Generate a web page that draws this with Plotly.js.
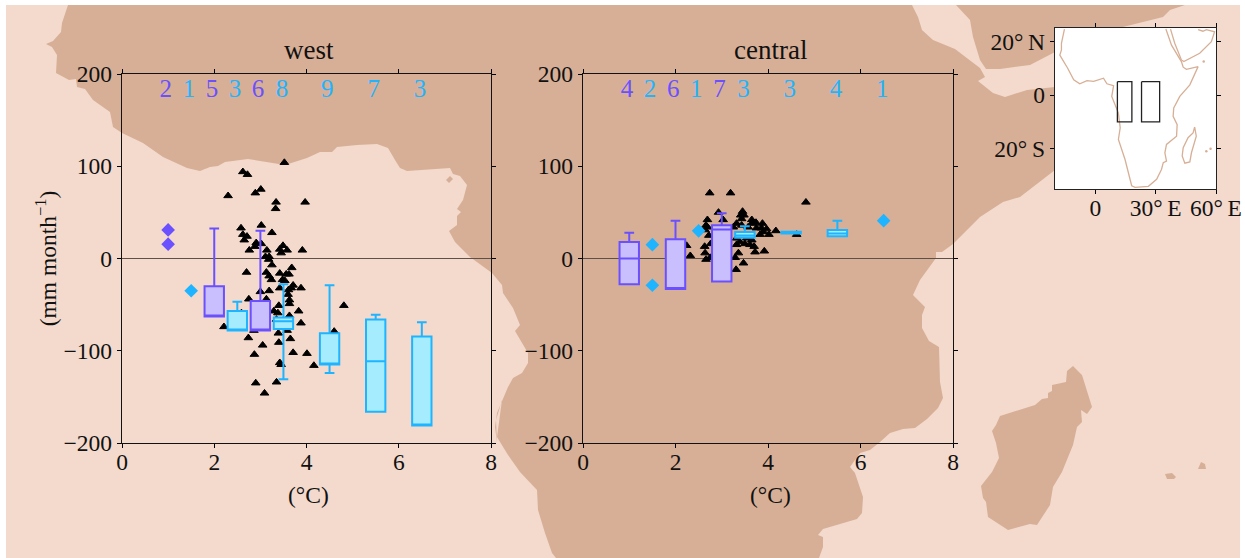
<!DOCTYPE html>
<html>
<head>
<meta charset="utf-8">
<script src="https://cdn.plot.ly/plotly-3.0.1.min.js"></script>
<style>html,body{margin:0;padding:0;background:#fff}</style>
</head>
<body>
<div id="chart" style="width:1245px;height:558px"></div>
<script>
// ---- background map (picture units)
var seaX = [6,1240,1240,6,6];
var seaY = [5,5,558,558,5];
var africaX = [68,62,61,53,46,52,57,56,69,76,77,85,93,110,113,122,143,163,187,200,210,218,225,248,285,307,320,332,337,357,377,388,395,400,407,450,453,460,467,463,457,461,457,457,449,455,470,492,502,503,513,520,515,522,528,528,522,513,508,497,495,497,496,502,497,508,520,537,538,545,552,556,819,823,823,818,823,857,862,863,855,850,860,870,880,890,903,915,927,938,943,940,939,929,922,922,925,913,920,936,936,942,953,967,980,1003,1020,1055,1100,1100,1055,1027,1005,993,978,985,980,955,933,922,918,912,68];
var africaY = [5,23,32,41,44,47,55,73,80,79,87,89,100,112,127,133,143,157,168,171,167,166,162,159,165,158,152,152,147,145,144,148,160,168,171,168,174,176,185,200,209,212,216,225,231,242,257,273,285,293,308,325,331,343,353,363,373,378,387,413,427,442,420,400,437,455,472,490,510,533,553,558,558,547,537,535,529,519,513,497,473,467,453,450,442,433,429,428,419,408,398,382,347,341,328,315,307,295,280,258,252,252,244,230,217,202,197,170,130,87,87,90,97,93,81,77,68,49,40,30,17,5,5];
var arabiaX = [956,970,973,980,986,1000,1030,1055,1100,1123,1163,1170,1185,956];
var arabiaY = [5,20,37,60,69,69,65,52,40,27,17,10,5,5];
var madagascarX = [1073,1067,1066,1052,1052,1048,1048,1042,1035,1008,1000,996,992,996,999,992,981,983,986,988,1008,1030,1037,1050,1053,1062,1073,1077,1082,1081,1087,1092,1085,1082,1073];
var madagascarY = [366,371,382,385,391,393,398,399,405,414,416,425,431,443,458,472,486,498,502,517,530,524,525,505,487,472,445,427,422,410,414,407,385,375,366];
var islandAX = [1165,1172,1176,1174,1167,1165];
var islandAY = [474,473,477,479,479,474];
var islandBX = [1201,1205,1206,1198,1201];
var islandBY = [462,464,469,469,462];
var lakeX = [446,450,453,449,446];
var lakeY = [180,176,179,183,180];

// ---- west panel
var westTriX = [3.52,2.62,2.72,2.30,2.89,3.01,3.97,3.34,3.33,3.02,2.58,3.25,2.62,2.71,2.65,2.91,2.88,3.02,2.76,3.14,3.19,3.11,3.49,3.42,3.58,3.91,3.45,3.18,3.25,2.70,3.13,3.19,3.24,3.68,3.42,3.62,3.56,3.48,3.53,3.71,3.67,3.42,3.88,3.61,3.19,3.00,3.60,3.63,3.63,3.40,2.75,3.13,3.83,3.29,3.38,3.63,3.88,2.21,4.81,4.60,2.86,3.58,2.74,3.65,3.39,3.40,3.05,2.87,3.71,4.01,3.42,3.45,4.16,3.35,2.90,3.09,2.59,3.35];
var westTriY = [104,94,91,68,71,75,61,61,54,36,33,28,26,24,20,17,13,16,9,9,2,2,14,10,9,9,6,-1,-7,-15,-15,-19,-23,-10,-16,-17,-17,-23,-24,-29,-32,-32,-32,-34,-35,-36,-39,-45,-49,-51,-44,-44,-57,-57,-59,-62,-70,-74,-51,-79,-78,-78,-86,-87,-81,-91,-94,-104,-102,-103,-113,-115,-116,-134,-135,-146,-59,-66];
var westDiamondPurpleX = [1,1];
var westDiamondPurpleY = [31,15.5];
var westDiamondBlueX = [1.5];
var westDiamondBlueY = [-35];

var westPurpleX = [2,3];
var westPurpleQ1 = [-63,-78];
var westPurpleMed = [-63,-78];
var westPurpleQ3 = [-30,-46];
var westPurpleLow = [-63,-78];
var westPurpleUp = [32.5,30];

var westBlueX = [2.5,3.5,4.5,5.5,6.5];
var westBlueQ1 = [-78,-76.5,-115,-166,-181];
var westBlueMed = [-78,-68,-115,-111.5,-181];
var westBlueQ3 = [-57,-64,-81,-66,-84.5];
var westBlueLow = [-78,-131,-124,-166,-181];
var westBlueUp = [-47,-28,-29,-61,-69];

var westCountX = [0.95,1.45,1.95,2.45,2.95,3.47,4.45,5.46,6.46];
var westCountText = ['2','1','5','3','6','8','9','7','3'];
var westCountColor = ['#6a50ff','#1fb4ff','#6a50ff','#1fb4ff','#6a50ff','#1fb4ff','#1fb4ff','#1fb4ff','#1fb4ff'];

// ---- central panel
var centralTriX = [2.74,3.19,4.82,2.93,3.45,3.41,3.48,3.43,3.65,3.74,3.88,3.65,3.97,4.17,3.83,4.02,4.62,2.69,2.66,3.03,2.72,2.63,2.64,2.66,2.75,2.76,2.24,2.32,3.70,3.65,3.50,3.72,3.92,3.36,3.29,3.47,3.31,3.32,3.39,3.61,3.75,3.57,3.32,3.25,3.43,3.54,3.32,3.86,3.90,2.69,2.64];
var centralTriY = [71,71,61,50,51,47,47,43,42,39,38,38,32,30,26,26,26,42,36,42,25,13,6,-1,1,16,14,3,13,20,16,7,8,6,1,-5,-12,15,18,15,33,34,38,34,36,22,22,33,29,34,31];
var centralDiamondX = [1.5,1.5,2.5,6.5];
var centralDiamondY = [15,-29,30,41];

var centralPurpleX = [1,2,3];
var centralPurpleQ1 = [-28,-33,-25];
var centralPurpleMed = [0,-33,31.5];
var centralPurpleQ3 = [18,21,36];
var centralPurpleLow = [-28,-33,-25];
var centralPurpleUp = [28,41,49];

var centralBlueX = [3.5,4.5,5.5];
var centralBlueQ1 = [22.5,27,24];
var centralBlueMed = [25,28,27];
var centralBlueQ3 = [28.7,29,31];
var centralBlueLow = [22.5,27,24];
var centralBlueUp = [35,29,41];

var centralCountX = [0.95,1.45,1.95,2.45,2.95,3.47,4.47,5.47,6.47];
var centralCountText = ['4','2','6','1','7','3','3','4','1'];
var centralCountColor = ['#6a50ff','#1fb4ff','#6a50ff','#1fb4ff','#6a50ff','#1fb4ff','#1fb4ff','#1fb4ff','#1fb4ff'];

// ---- inset, lon / lat
var insetFrameX = [-20,60,60,-20,-20];
var insetFrameY = [-35,-35,25,25,-35];
var coastAfricaLon = [-15.3,-16.8,-16.8,-17.6,-13.7,-10.7,-7.7,-4.1,-0.8,4.1,5.8,9.1,8.2,11.5,12.4,11.5,14.8,18.1,19.8,26.4,30.5,32.9,33.8,35.4,34.6,35.4,40.4,40.7,38.7,39,42,47,51.1,45.3,43.7,42.8,37.9,35.1];
var coastAfricaLat = [24.6,19.3,16.8,14.9,10,5.7,4.2,5.4,5.1,6.3,4.2,3.5,-0.5,-6.7,-12.2,-16.5,-24,-33.8,-34.4,-34,-31.4,-27.7,-25.2,-24.6,-21.5,-18.4,-15.3,-11,-7.9,-4.8,-0.5,3.8,10.6,9.6,10.4,12.5,18.6,24.6];
var coastArabiaLon = [37.4,39.5,42.8,44,51.9,57.7,59.3,55.2,53.5,51.1];
var coastArabiaLat = [24.6,19.3,13.1,12.5,15.6,19.9,23.6,24.4,23.8,24.4];
var coastMadLon = [49.4,50.2,47.8,47,44.5,43.2,43.7,46.1,48.6,49.4];
var coastMadLat = [-11.9,-15.3,-21.5,-24.9,-25.4,-22.7,-19.6,-15.9,-14.1,-11.9];
var islandLon = [53.9,55.2,57.3];
var islandLat = [12.5,-20.9,-20];
var regionWestLon = [11,18.2,18.2,11,11];
var regionCentralLon = [23,32,32,23,23];
var regionLat = [5,5,-10,-10,5];
var insetLonTicks = ['0','30°\u2009E','60°\u2009E'];
var insetLatTicks = ['20°\u2009S','0','20°\u2009N'];

// ---- styles
var PURPLE = '#6a50ff', PURPLE_FILL = '#c9bfff';
var BLUE = '#1fb4ff', BLUE_FILL = '#a6ecff';
var SEA = '#f3dacd', LAND = '#d7af96';
var SERIF = '"Liberation Serif", serif';
var W = 1245, H = 558;

function join() {
  var out = [];
  for (var i = 0; i < arguments.length; i++) {
    if (i) out.push(null);
    out = out.concat(arguments[i]);
  }
  return out;
}
function poly(x, y, color, ax) {
  return {type:'scatter', mode:'lines', x:x, y:y, fill:'toself', fillcolor:color,
          line:{width:0, color:color}, xaxis:ax[0], yaxis:ax[1], hoverinfo:'skip', showlegend:false};
}
function line(x, y, color, w, ax) {
  return {type:'scatter', mode:'lines', x:x, y:y, line:{width:w, color:color},
          xaxis:ax[0], yaxis:ax[1], hoverinfo:'skip', showlegend:false};
}
function tri(x, y, ax) {
  return {type:'scatter', mode:'markers', x:x, y:y,
          marker:{symbol:'triangle-up', size:7.5, color:'#000', line:{width:1, color:'#000'}},
          xaxis:ax[0], yaxis:ax[1], showlegend:false};
}
function dia(x, y, color, ax) {
  return {type:'scatter', mode:'markers', x:x, y:y, marker:{symbol:'diamond', size:10.5, color:color},
          xaxis:ax[0], yaxis:ax[1], showlegend:false};
}
function counts(x, t, c, ax) {
  return {type:'scatter', mode:'text', x:x, y:x.map(function(){return 182;}), text:t,
          textposition:'middle center', textfont:{family:SERIF, size:25, color:c},
          xaxis:ax[0], yaxis:ax[1], showlegend:false};
}
function box(x, q1, med, q3, low, up, color, fill, ax) {
  return {type:'box', x:x, q1:q1, median:med, q3:q3, lowerfence:low, upperfence:up,
          width:0.42, whiskerwidth:0.5, boxpoints:false, fillcolor:fill,
          line:{color:color, width:2}, xaxis:ax[0], yaxis:ax[1], showlegend:false};
}

var MAP = ['x','y'], WEST = ['x2','y2'], CENT = ['x3','y3'], INSET = ['x4','y4'], WESTB = ['x5','y5'], CENTB = ['x6','y6'];

var traces = [
  poly(seaX, seaY, SEA, MAP),
  poly(join(africaX, arabiaX, madagascarX, islandAX, islandBX), join(africaY, arabiaY, madagascarY, islandAY, islandBY), LAND, MAP),
  poly(lakeX, lakeY, LAND, MAP),
  tri(westTriX, westTriY, WEST),
  dia(westDiamondPurpleX, westDiamondPurpleY, PURPLE, WEST),
  dia(westDiamondBlueX, westDiamondBlueY, BLUE, WEST),
  counts(westCountX, westCountText, westCountColor, WEST),
  tri(centralTriX, centralTriY, CENT),
  dia(centralDiamondX, centralDiamondY, BLUE, CENT),
  counts(centralCountX, centralCountText, centralCountColor, CENT),
  poly(insetFrameX, insetFrameY, '#ffffff', INSET),
  line(coastAfricaLon, coastAfricaLat, LAND, 1.3, INSET),
  line(coastArabiaLon, coastArabiaLat, LAND, 1.3, INSET),
  line(coastMadLon, coastMadLat, LAND, 1.3, INSET),
  {type:'scatter', mode:'markers', x:islandLon, y:islandLat, marker:{size:2.5, color:LAND}, xaxis:'x4', yaxis:'y4', showlegend:false},
  line(regionWestLon, regionLat, '#222', 1.3, INSET),
  line(regionCentralLon, regionLat, '#222', 1.3, INSET),
  box(westPurpleX, westPurpleQ1, westPurpleMed, westPurpleQ3, westPurpleLow, westPurpleUp, PURPLE, PURPLE_FILL, WESTB),
  box(westBlueX, westBlueQ1, westBlueMed, westBlueQ3, westBlueLow, westBlueUp, BLUE, BLUE_FILL, WESTB),
  box(centralPurpleX, centralPurpleQ1, centralPurpleMed, centralPurpleQ3, centralPurpleLow, centralPurpleUp, PURPLE, PURPLE_FILL, CENTB),
  box(centralBlueX, centralBlueQ1, centralBlueMed, centralBlueQ3, centralBlueLow, centralBlueUp, BLUE, BLUE_FILL, CENTB)
];

function dx(a, b) { return [a / W, b / W]; }
function dy(top, bottom) { return [1 - bottom / H, 1 - top / H]; }
var tickFont = {family:SERIF, size:23.5, color:'#111'};
var axisTitleFont = {family:SERIF, size:23.5, color:'#111'};
function xAx(domain, anchor) {
  return {domain:domain, anchor:anchor, range:[0,8], tickvals:[0,2,4,6,8], ticks:'outside', ticklen:4, tickwidth:1,
          ticklabelstandoff:-7,
          tickcolor:'#000', linecolor:'#111', linewidth:1.3, mirror:'ticks', showgrid:false, zeroline:false,
          tickfont:tickFont};
}
function yAx(domain, anchor, title) {
  var a = {domain:domain, anchor:anchor, range:[-200,200], tickvals:[-200,-100,0,100,200], ticks:'outside', ticklen:4, tickwidth:1,
          tickcolor:'#000', linecolor:'#111', linewidth:1.3, mirror:'ticks', showgrid:false, zeroline:true,
          zerolinecolor:'#5c5048', zerolinewidth:1.7, tickfont:tickFont};
  if (title) a.title = {text:title, font:axisTitleFont, standoff:0};
  return a;
}
function note(text, xref, shift, py, size) {
  return {text:text, xref:xref, yref:'paper', x:4, xshift:shift, y:1-py/H, yanchor:'middle', showarrow:false,
          font:{family:SERIF, size:size, color:'#111'}};
}
var layout = {
  width:W, height:H, autosize:false, margin:{l:0,r:0,t:0,b:0,pad:0},
  paper_bgcolor:'#ffffff', plot_bgcolor:'rgba(0,0,0,0)', showlegend:false, boxmode:'overlay',
  xaxis:{domain:[0,1], range:[0,W], visible:false, fixedrange:true},
  yaxis:{domain:[0,1], range:[H,0], visible:false, fixedrange:true},
  xaxis2:xAx(dx(122,491),'y2'),
  yaxis2:yAx(dy(74,443),'x2','(mm month<sup>−1</sup>)'),
  xaxis3:xAx(dx(583,953),'y3'),
  yaxis3:yAx(dy(74,443),'x3'),
  xaxis4:{domain:dx(1055,1216), anchor:'y4', range:[-20,60], tickvals:[0,30,60], ticktext:insetLonTicks,
          ticklabelstandoff:-7,
          ticks:'outside', ticklen:4, tickcolor:'#000', linecolor:'#222', linewidth:1.3, mirror:'ticks', showgrid:false, zeroline:false, tickfont:tickFont},
  yaxis4:{domain:dy(28,189), anchor:'x4', range:[-35,25], tickvals:[-20,0,20], ticktext:insetLatTicks,
          ticks:'outside', ticklen:4, tickcolor:'#000', linecolor:'#222', linewidth:1.3, mirror:'ticks', showgrid:false, zeroline:false, tickfont:tickFont},
  xaxis5:{domain:dx(122,491), overlaying:'x2', anchor:'y5', range:[0,8], visible:false},
  yaxis5:{domain:dy(74,443), overlaying:'y2', anchor:'x5', range:[-200,200], visible:false},
  xaxis6:{domain:dx(583,953), overlaying:'x3', anchor:'y6', range:[0,8], visible:false},
  yaxis6:{domain:dy(74,443), overlaying:'y3', anchor:'x6', range:[-200,200], visible:false},
  annotations:[
    note('west','x2',2,50,27),
    note('central','x3',2,50,27),
    note('(°C)','x2',2,495,23.5),
    note('(°C)','x3',2,495,23.5)
  ]
};
Plotly.newPlot('chart', traces, layout, {displayModeBar:false, staticPlot:true});
</script>
</body>
</html>
